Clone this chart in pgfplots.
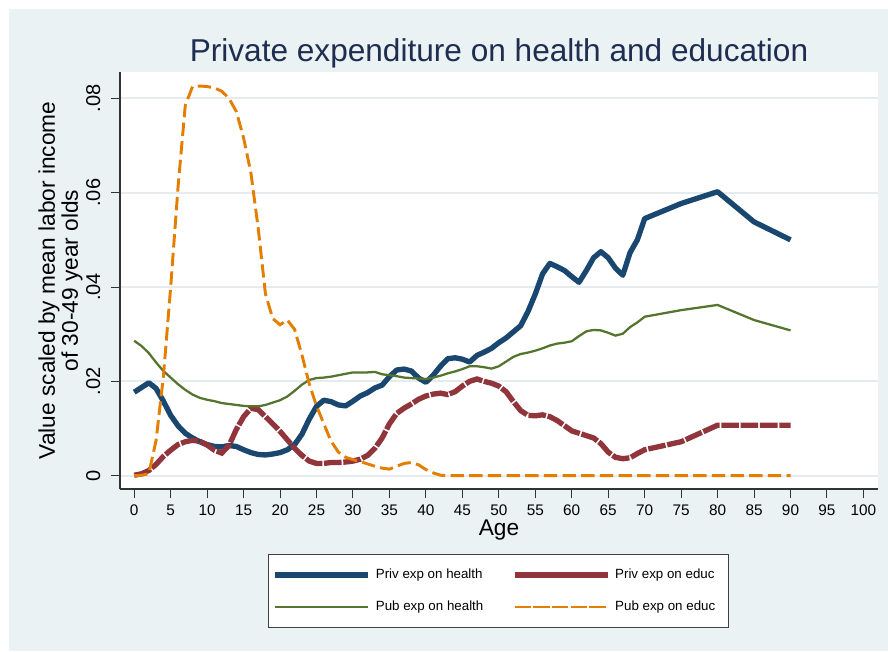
\documentclass[border=0pt]{standalone}
\usepackage{fontspec}
\setmainfont{Liberation Sans}
\usepackage{pgfplots}
\pgfplotsset{compat=1.18}
\definecolor{bgc}{RGB}{234,242,243}
\definecolor{gridc}{RGB}{228,236,238}
\definecolor{p1}{RGB}{26,71,111}
\definecolor{p2}{RGB}{144,53,59}
\definecolor{p3}{RGB}{85,117,47}
\definecolor{p4}{RGB}{227,126,0}
\definecolor{titlec}{RGB}{30,45,80}
\newcommand{\lgbox}[1]{\makebox[81.75pt][l]{#1}}
\begin{document}
\begin{tikzpicture}
\path[use as bounding box] (0,0) rectangle (666pt,488.25pt);
\fill[white] (0,0) rectangle (666pt,488.25pt);
\fill[bgc] (6.75pt,0) rectangle (666pt,481.5pt);
\begin{axis}[
  at={(90pt,121.5pt)}, anchor=south west,
  scale only axis, width=568.5pt, height=312.75pt,
  xmin=-1.95, xmax=102.0, ymin=-0.00282, ymax=0.08558,
  axis background/.style={fill=white},
  axis x line*=bottom, axis y line*=left,
  axis line style={black!80, line width=1.1pt},
  ymajorgrids, major grid style={gridc, line width=1.5pt},
  xtick={0,5,...,100},
  ytick={0,0.02,0.04,0.06,0.08},
  yticklabels={0,.02,.04,.06,.08},
  scaled y ticks=false,
  /pgf/number format/assume math mode=true,
  tick align=outside, major tick length=6.75pt,
  tick style={black!80, line width=0.75pt},
  xticklabel style={font=\fontsize{11.5}{13}\selectfont, anchor=base, yshift=-12.75pt},
  yticklabel style={font=\fontsize{15}{17}\selectfont, rotate=90, anchor=base, yshift=8.25pt},
  title={Private expenditure on health and education},
  title style={at={(axis description cs:0.5,1.0055)}, anchor=base, font=\fontsize{23.7}{28}\selectfont, text=titlec},
  xlabel={Age},
  xlabel style={at={(axis description cs:0.5,-0.1103)}, anchor=base, font=\fontsize{17}{20}\selectfont},
  ylabel={Value scaled by mean labor income\\of 30-49 year olds},
  ylabel style={at={(axis description cs:-0.0785,0.5)}, anchor=center, align=center, font=\fontsize{17}{17.25}\selectfont},
  legend columns=2,
  legend image code/.code={\path (0pt,0pt) -- (69.75pt,0pt); \draw[#1, overlay] (2.25pt,0pt) -- (69.75pt,0pt);},
  legend style={at={(axis description cs:0.1953,-0.1559)}, anchor=north west,
    draw=black!75, line width=0.75pt, fill=white, inner xsep=3pt, inner ysep=10.5pt,
    font=\fontsize{10}{12}\selectfont,
    nodes={inner xsep=0pt, inner ysep=0pt, text height=7.5pt, text depth=2.25pt},
    /tikz/every odd column/.append style={column sep=3.75pt},
    /tikz/every even column/.append style={column sep=20.25pt},
    row sep=14.25pt},
]
\addplot[p1, line width=4pt, line join=round] coordinates {
(0,0.0177) (1,0.0187) (2,0.0197) (3,0.0185) (4,0.0158) (5,0.0128) (6,0.0106) (7,0.0090) (8,0.0080) (9,0.0072) (10,0.0066) (11,0.0062) (12,0.0061) (13,0.0064) (14,0.0062) (15,0.0055) (16,0.0049) (17,0.0045) (18,0.0044) (19,0.0046) (20,0.0049) (21,0.0055) (22,0.0066) (23,0.0088) (24,0.0120) (25,0.0147) (26,0.0160) (27,0.0157) (28,0.0150) (29,0.0148) (30,0.0158) (31,0.0169) (32,0.0176) (33,0.0186) (34,0.0192) (35,0.0210) (36,0.0224) (37,0.0226) (38,0.0222) (39,0.0207) (40,0.0198) (41,0.0213) (42,0.0232) (43,0.0248) (44,0.0250) (45,0.0247) (46,0.0241) (47,0.0255) (48,0.0262) (49,0.0270) (50,0.0282) (51,0.0292) (52,0.0305) (53,0.0318) (54,0.0348) (55,0.0385) (56,0.0428) (57,0.0450) (58,0.0443) (59,0.0435) (60,0.0422) (61,0.0410) (62,0.0435) (63,0.0462) (64,0.0475) (65,0.0462) (66,0.0440) (67,0.0425) (68,0.0473) (69,0.0500) (70,0.0545) (75,0.0577) (80,0.0602) (85,0.0538) (90,0.0500)
};
\addlegendentry{\lgbox{Priv exp on health}}
\addplot[p2, line width=4pt, dash pattern=on 13.2pt off 1.3pt] coordinates {
(0,0.0001) (1,0.0004) (2,0.0011) (3,0.0024) (4,0.0041) (5,0.0054) (6,0.0066) (7,0.0072) (8,0.0075) (9,0.0073) (10,0.0065) (11,0.0054) (12,0.0048) (13,0.0064) (14,0.0098) (15,0.0125) (16,0.0143) (17,0.0140) (18,0.0125) (19,0.0110) (20,0.0094) (21,0.0076) (22,0.0058) (23,0.0043) (24,0.0031) (25,0.0026) (26,0.0026) (27,0.0028) (28,0.0028) (29,0.0029) (30,0.0031) (31,0.0035) (32,0.0043) (33,0.0058) (34,0.0080) (35,0.0110) (36,0.0132) (37,0.0143) (38,0.0152) (39,0.0162) (40,0.0169) (41,0.0173) (42,0.0175) (43,0.0172) (44,0.0178) (45,0.0190) (46,0.0200) (47,0.0205) (48,0.0200) (49,0.0196) (50,0.0190) (51,0.0178) (52,0.0157) (53,0.0138) (54,0.0128) (55,0.0127) (56,0.0129) (57,0.0125) (58,0.0117) (59,0.0106) (60,0.0095) (61,0.0090) (62,0.0085) (63,0.0080) (64,0.0068) (65,0.0050) (66,0.0039) (67,0.0036) (68,0.0038) (69,0.0047) (70,0.0055) (75,0.0072) (80,0.0107) (85,0.0107) (90,0.0107)
};
\addlegendentry{\lgbox{Priv exp on educ}}
\addplot[p3, line width=1.7pt] coordinates {
(0,0.0286) (1,0.0275) (2,0.0260) (3,0.0240) (4,0.0222) (5,0.0208) (6,0.0194) (7,0.0182) (8,0.0172) (9,0.0165) (10,0.0161) (11,0.0158) (12,0.0154) (13,0.0152) (14,0.0150) (15,0.0148) (16,0.0147) (17,0.0147) (18,0.0150) (19,0.0155) (20,0.0160) (21,0.0168) (22,0.0180) (23,0.0193) (24,0.0203) (25,0.0207) (26,0.0208) (27,0.0210) (28,0.0213) (29,0.0216) (30,0.0219) (31,0.0219) (32,0.0219) (33,0.0220) (34,0.0215) (35,0.0213) (36,0.0211) (37,0.0208) (38,0.0207) (39,0.0206) (40,0.0205) (41,0.0208) (42,0.0212) (43,0.0217) (44,0.0221) (45,0.0226) (46,0.0232) (47,0.0232) (48,0.0230) (49,0.0227) (50,0.0232) (51,0.0242) (52,0.0252) (53,0.0258) (54,0.0261) (55,0.0265) (56,0.0270) (57,0.0276) (58,0.0280) (59,0.0282) (60,0.0285) (61,0.0296) (62,0.0306) (63,0.0309) (64,0.0308) (65,0.0303) (66,0.0297) (67,0.0301) (68,0.0315) (69,0.0325) (70,0.0337) (75,0.0351) (80,0.0362) (85,0.0330) (90,0.0308)
};
\addlegendentry{\lgbox{Pub exp on health}}
\addplot[p4, line width=2.2pt, dash pattern=on 10pt off 4pt] coordinates {
(0,0) (1,0.0001) (2,0.0004) (3,0.0075) (4,0.0210) (5,0.0400) (6,0.0610) (7,0.0785) (8,0.0825) (9,0.0826) (10,0.0825) (11,0.0822) (12,0.0815) (13,0.0800) (14,0.0772) (15,0.0716) (16,0.0642) (17,0.0525) (18,0.0385) (19,0.0333) (20,0.0320) (21,0.0330) (22,0.0310) (23,0.0256) (24,0.0195) (25,0.0148) (26,0.0110) (27,0.0073) (28,0.0050) (29,0.0039) (30,0.0034) (31,0.0030) (32,0.0025) (33,0.0020) (34,0.0016) (35,0.0014) (36,0.0020) (37,0.0026) (38,0.0028) (39,0.0023) (40,0.0013) (41,0.0006) (42,0.0001) (43,0) (90,0)
};
\addlegendentry{\lgbox{Pub exp on educ}}
\end{axis}
\end{tikzpicture}
\end{document}
